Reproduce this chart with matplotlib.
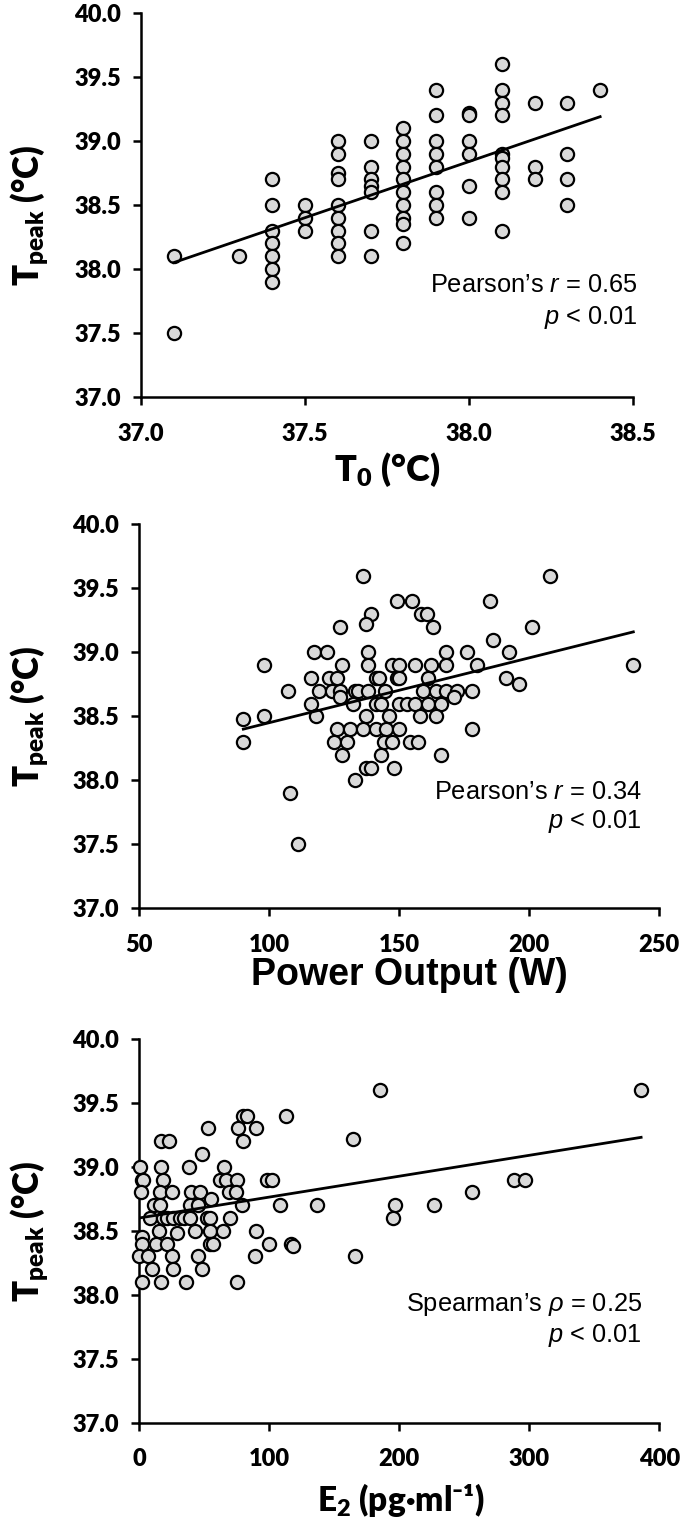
import matplotlib
matplotlib.use('Agg')
import matplotlib.pyplot as plt

plt.rcParams['font.family'] = ['Lato', 'DejaVu Sans']
plt.rcParams['font.weight'] = 'heavy'
plt.rcParams['axes.labelweight'] = 'heavy'
plt.rcParams['mathtext.fontset'] = 'custom'
plt.rcParams['mathtext.rm'] = 'Lato'
plt.rcParams['mathtext.bf'] = 'Lato:heavy'
plt.rcParams['mathtext.it'] = 'Liberation Sans:italic:normal'

# panel 1: T0 vs Tpeak
t0 = [37.1, 37.1,
      37.3,
      37.4, 37.4, 37.4, 37.4, 37.4, 37.4, 37.4,
      37.5, 37.5, 37.5,
      37.6, 37.6, 37.6, 37.6, 37.6, 37.6, 37.6, 37.6, 37.6,
      37.7, 37.7, 37.7, 37.7, 37.7, 37.7, 37.7,
      37.8, 37.8, 37.8, 37.8, 37.8, 37.8, 37.8, 37.8, 37.8, 37.8,
      37.9, 37.9, 37.9, 37.9, 37.9, 37.9, 37.9, 37.9,
      38.0, 38.0, 38.0, 38.0, 38.0, 38.0,
      38.1, 38.1, 38.1, 38.1, 38.1, 38.1, 38.1, 38.1, 38.1, 38.1,
      38.2, 38.2, 38.2,
      38.3, 38.3, 38.3, 38.3,
      38.4]
tpeak_t0 = [38.1, 37.5,
            38.1,
            38.7, 38.5, 38.3, 38.2, 38.1, 38.0, 37.9,
            38.5, 38.4, 38.3,
            39.0, 38.9, 38.75, 38.7, 38.5, 38.4, 38.3, 38.2, 38.1,
            39.0, 38.8, 38.7, 38.65, 38.6, 38.3, 38.1,
            39.1, 39.0, 38.9, 38.8, 38.7, 38.6, 38.5, 38.4, 38.35, 38.2,
            39.4, 39.2, 39.0, 38.9, 38.8, 38.6, 38.5, 38.4,
            39.22, 39.2, 39.0, 38.9, 38.65, 38.4,
            39.6, 39.4, 39.3, 39.2, 38.9, 38.87, 38.8, 38.7, 38.6, 38.3,
            39.3, 38.8, 38.7,
            39.3, 38.9, 38.7, 38.5,
            39.4]
fit1_x = [37.1, 38.4]
fit1_y = [38.05, 39.19]

# panel 2: power output vs Tpeak
power = [136, 149, 155, 139, 137, 158.5, 160.5, 163, 127,
         117, 122, 138, 168, 176,
         98, 128, 138, 147, 150, 156, 162, 168, 180,
         116, 123, 126, 141, 142, 149, 150, 161,
         107, 119, 124, 127, 133, 134, 138, 144.5, 159, 164, 168, 172, 178,
         127, 171,
         116, 132, 141, 143, 150, 153, 156, 161, 166,
         90, 98, 118, 137, 146, 158, 164,
         126, 131, 136, 141, 145, 150, 178,
         90, 125, 130, 144, 147, 154, 157,
         128, 143, 166,
         137, 139, 148,
         133, 108, 111,
         208, 185, 201, 186, 192, 240, 191, 196]
tpeak_power = [39.6, 39.4, 39.4, 39.3, 39.22, 39.3, 39.3, 39.2, 39.2,
               39.0, 39.0, 39.0, 39.0, 39.0,
               38.9, 38.9, 38.9, 38.9, 38.9, 38.9, 38.9, 38.9, 38.9,
               38.8, 38.8, 38.8, 38.8, 38.8, 38.8, 38.8, 38.8,
               38.7, 38.7, 38.7, 38.7, 38.7, 38.7, 38.7, 38.7, 38.7, 38.7, 38.7, 38.7, 38.7,
               38.65, 38.65,
               38.6, 38.6, 38.6, 38.6, 38.6, 38.6, 38.6, 38.6, 38.6,
               38.48, 38.5, 38.5, 38.5, 38.5, 38.5, 38.5,
               38.4, 38.4, 38.4, 38.4, 38.4, 38.4, 38.4,
               38.3, 38.3, 38.3, 38.3, 38.3, 38.3, 38.3,
               38.2, 38.2, 38.2,
               38.1, 38.1, 38.1,
               38.0, 37.9, 37.5,
               39.6, 39.4, 39.2, 39.1, 39.0, 38.9, 38.8, 38.75]
fit2_x = [90, 240]
fit2_y = [38.40, 39.16]

# panel 3: E2 vs Tpeak
e2 = [80, 83, 113,
      53, 76, 90,
      17, 23, 80,
      48,
      0.5, 17, 38.5, 65,
      2, 3, 18.5, 62, 67, 75, 98, 102,
      1, 16, 25, 40, 47, 69, 74,
      55,
      11, 16, 39, 45, 79, 108, 137,
      8, 18.5, 21, 26, 31, 34, 39, 52, 54, 70,
      15, 29, 43, 54, 64, 90,
      2,
      2, 13, 21, 54, 57, 100, 117,
      118,
      0, 7, 25, 45, 89, 166,
      10, 26, 48,
      2, 17, 36, 75,
      185, 386, 164, 197, 227, 195, 256, 288, 297]
tpeak_e2 = [39.4, 39.4, 39.4,
            39.3, 39.3, 39.3,
            39.2, 39.2, 39.2,
            39.1,
            39.0, 39.0, 39.0, 39.0,
            38.9, 38.9, 38.9, 38.9, 38.9, 38.9, 38.9, 38.9,
            38.8, 38.8, 38.8, 38.8, 38.8, 38.8, 38.8,
            38.75,
            38.7, 38.7, 38.7, 38.7, 38.7, 38.7, 38.7,
            38.6, 38.6, 38.6, 38.6, 38.6, 38.6, 38.6, 38.6, 38.6, 38.6,
            38.5, 38.48, 38.5, 38.5, 38.5, 38.5,
            38.45,
            38.4, 38.4, 38.4, 38.4, 38.4, 38.4, 38.4,
            38.38,
            38.3, 38.3, 38.3, 38.3, 38.3, 38.3,
            38.2, 38.2, 38.2,
            38.1, 38.1, 38.1, 38.1,
            39.6, 39.6, 39.22, 38.7, 38.7, 38.6, 38.8, 38.9, 38.9]
fit3_x = [0, 386]
fit3_y = [38.60, 39.23]

ytick_vals = [37.0, 37.5, 38.0, 38.5, 39.0, 39.5, 40.0]

fig = plt.figure(figsize=(6.85, 15.31), dpi=100)
ax1 = fig.add_axes([0.2058, 0.7407, 0.7182, 0.2508])
ax2 = fig.add_axes([0.2034, 0.4067, 0.7591, 0.2508])
ax3 = fig.add_axes([0.2034, 0.0707, 0.7591, 0.2508])


def style(ax, xt, xfmt):
    for s in ['top', 'right']:
        ax.spines[s].set_visible(False)
    for s in ['left', 'bottom']:
        ax.spines[s].set_linewidth(1.8)
    ax.set_ylim(37.0, 40.0)
    ax.set_xlim(xt[0], xt[-1])
    ax.set_yticks(ytick_vals, labels=['%.1f' % v for v in ytick_vals])
    ax.set_xticks(xt, labels=[xfmt % v for v in xt])
    ax.tick_params(direction='out', length=5.5, width=1.8, labelsize=17)
    ax.tick_params(axis='x', pad=13)
    ax.tick_params(axis='y', pad=9)
    ax.set_ylabel(r'$\mathbf{T_{peak}}$ (°C)', fontsize=25)
    ax.yaxis.label.set_verticalalignment('center')


def scatter(ax, x, y, fx, fy):
    ax.scatter(x, y, s=9.5 ** 2, facecolor='#d9d9d9', edgecolor='black',
               linewidth=1.6, zorder=3, clip_on=False)
    ax.plot(fx, fy, color='black', linewidth=2.0, zorder=4)


def note(ax, x, y, s):
    ax.text(x, y, s, transform=ax.transAxes, ha='right', va='center',
            fontsize=18.3, fontweight='normal', family='Liberation Sans')


scatter(ax1, t0, tpeak_t0, fit1_x, fit1_y)
style(ax1, [37.0, 37.5, 38.0, 38.5], '%.1f')
ax1.set_xlabel(r'$\mathbf{T_0}$ (°C)', fontsize=26)
ax1.xaxis.set_label_coords(0.5, -0.19)
ax1.xaxis.label.set_verticalalignment('center')
ax1.yaxis.set_label_coords(-0.226, 0.474)
note(ax1, 1.01, 0.292, 'Pearson’s $r$ = 0.65')
note(ax1, 1.01, 0.208, '$p$ < 0.01')

scatter(ax2, power, tpeak_power, fit2_x, fit2_y)
style(ax2, [50, 100, 150, 200, 250], '%d')
ax2.set_xlabel('Power Output (W)', fontsize=27, fontweight='bold', family='Liberation Sans')
ax2.xaxis.set_label_coords(0.519, -0.174)
ax2.xaxis.label.set_verticalalignment('center')
ax2.yaxis.set_label_coords(-0.21, 0.5)
note(ax2, 0.966, 0.304, 'Pearson’s $r$ = 0.34')
note(ax2, 0.966, 0.225, '$p$ < 0.01')

scatter(ax3, e2, tpeak_e2, fit3_x, fit3_y)
style(ax3, [0, 100, 200, 300, 400], '%d')
ax3.set_xlabel(r'$\mathbf{E_2}$ (pg·ml⁻¹)', fontsize=24)
ax3.xaxis.set_label_coords(0.502, -0.201)
ax3.xaxis.label.set_verticalalignment('center')
ax3.yaxis.set_label_coords(-0.21, 0.5)
note(ax3, 0.967, 0.307, 'Spearman’s $\\rho$ = 0.25')
note(ax3, 0.967, 0.228, '$p$ < 0.01')

fig.savefig('out.png', dpi=100)
